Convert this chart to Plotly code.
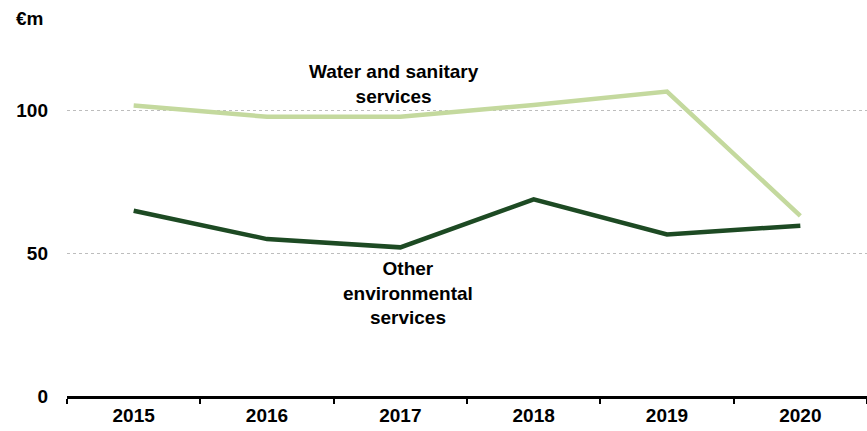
import plotly.graph_objects as go

years = ["2015", "2016", "2017", "2018", "2019", "2020"]
water_sanitary = [101.6, 97.7, 97.7, 101.8, 106.5, 63.0]
other_environmental = [64.8, 54.9, 52.0, 68.8, 56.5, 59.6]
y_ticks = [0, 50, 100]

FONT = "Liberation Sans"
FS = 19

fig = go.Figure()
fig.add_trace(go.Scatter(x=years, y=water_sanitary, mode="lines",
                         line=dict(color="#c4d99e", width=4.5), showlegend=False))
fig.add_trace(go.Scatter(x=years, y=other_environmental, mode="lines",
                         line=dict(color="#1d4a23", width=4.5), showlegend=False))

fig.update_layout(
    width=867, height=431,
    margin=dict(l=67, r=0, t=53, b=35, autoexpand=False),
    plot_bgcolor="white", paper_bgcolor="white",
    font=dict(family=FONT, size=FS, color="black"),
    xaxis=dict(type="category", showgrid=False, showline=True, linecolor="black",
               linewidth=3, ticks="outside", tickson="boundaries", ticklen=5,
               tickwidth=2, tickcolor="black", range=[-0.5, 5.5],
               tickfont=dict(family=FONT, size=FS, color="black", weight="bold"),
               zeroline=False),
    yaxis=dict(range=[0, 120], tickvals=y_ticks, showgrid=True, gridcolor="#bdbdbd",
               griddash="dot", gridwidth=1, showline=False, zeroline=False,
               ticks="", ticklabelstandoff=18,
               tickfont=dict(family=FONT, size=FS, color="black", weight="bold")),
    annotations=[
        dict(text="<b>€m</b>", xref="paper", yref="paper", x=-0.066, y=1.102,
             xanchor="left", yanchor="middle", showarrow=False,
             font=dict(family=FONT, size=FS, color="black")),
        dict(text="<b>Water and sanitary<br>services</b>", xref="x", yref="y",
             x=1.953, y=109.3, xanchor="center", yanchor="middle", showarrow=False,
             font=dict(family=FONT, size=FS, color="black")),
        dict(text="<b>Other<br>environmental<br>services</b>", xref="x", yref="y",
             x=2.058, y=35.9, xanchor="center", yanchor="middle", showarrow=False,
             font=dict(family=FONT, size=FS, color="black")),
    ],
)

fig.write_html(
    "out.html",
    config={"displayModeBar": False},
    post_script="document.body.style.margin='0';document.body.style.overflow='hidden';",
)
